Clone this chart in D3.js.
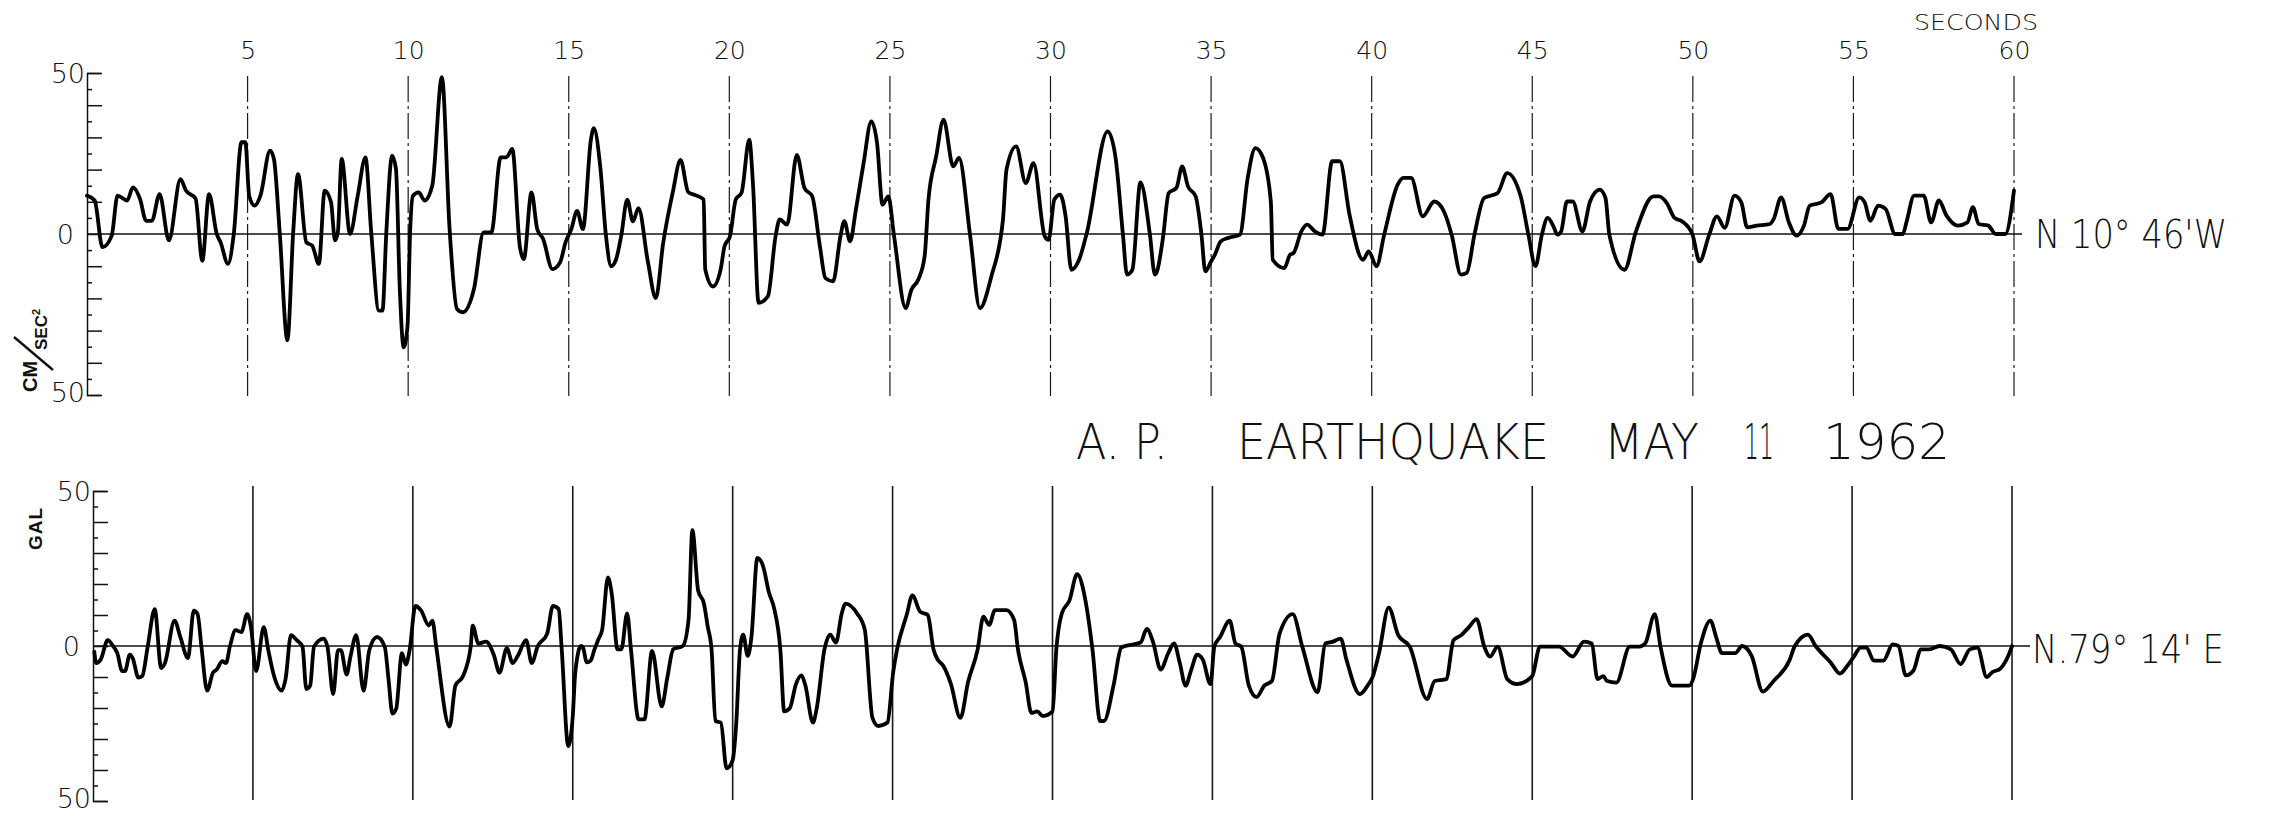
<!DOCTYPE html>
<html>
<head>
<meta charset="utf-8">
<script src="https://cdn.jsdelivr.net/npm/d3@7"></script>
<style>
  html, body { margin: 0; padding: 0; background: #fff; }
  svg { display: block; }
  text { fill: #111; }
</style>
</head>
<body>
<svg id="chart" width="2287" height="816"></svg>
<script>
// Time marks along the record (seconds) and amplitude ticks (gal)
const secondTicks = [5, 10, 15, 20, 25, 30, 35, 40, 45, 50, 55, 60];
const ampTicks = d3.range(-50, 51, 5);
const ampLabels = [50, 0, -50];

// Component N 10°46'W : [time (s), acceleration (gal)]
const nsTrace = [
  [0,11.9],[0.24,10.4],[0.48,-4.1],[0.77,-0.5],[0.95,11.9],[1.25,10.4],[1.43,14.5],[1.65,10.9],[1.84,4.1],[2.02,4.1],
  [2.26,12.4],[2.55,-2.0],[2.91,17.0],[3.08,13.5],[3.38,11.0],[3.59,-8.3],[3.8,12.4],[4.04,0],[4.16,-2.6],[4.39,-9.3],
  [4.57,0],[4.81,28.5],[4.93,28.5],[5.05,11.9],[5.22,8.8],[5.4,11.9],[5.7,25.9],[5.82,23.3],[6.0,0.5],[6.24,-33.0],
  [6.42,0.5],[6.57,18.6],[6.83,-2.6],[7.01,-3.6],[7.22,-9.3],[7.4,13.5],[7.6,9.8],[7.72,-2.0],[7.81,0.5],[7.93,23.3],
  [8.19,0],[8.43,11.9],[8.67,23.8],[8.85,0.5],[9.09,-23.8],[9.2,-23.8],[9.32,0.5],[9.5,24.3],[9.62,20.2],[9.74,-17.2],
  [9.86,-35.2],[9.98,-28.5],[10.06,0.5],[10.15,11.9],[10.33,12.9],[10.51,10.4],[10.75,15.0],[11.05,48.7],[11.29,1.5],[11.52,-23.3],
  [11.7,-24.3],[12.05,-17.0],[12.35,0.5],[12.59,0.5],[12.88,23.8],[13.06,23.8],[13.24,26.4],[13.48,-4.1],[13.6,-7.8],[13.84,12.9],
  [14.02,1.5],[14.2,-1.5],[14.49,-10.9],[14.73,-8.8],[14.9,-2.6],[15.08,1.5],[15.26,7.2],[15.44,1.5],[15.69,29.3],[15.78,32.9],
  [15.98,21.0],[16.16,-0.7],[16.32,-10.0],[16.47,-8.0],[16.64,-0.2],[16.82,10.7],[17.0,3.9],[17.17,8.0],[17.47,-9.0],[17.71,-19.9],
  [17.94,-2.8],[18.24,13.0],[18.48,23.0],[18.72,13.0],[18.96,12.0],[19.2,10.7],[19.25,-11.0],[19.49,-16.3],[19.73,-11.0],[19.85,-3.8],
  [20.02,-0.7],[20.2,10.7],[20.38,12.8],[20.62,29.3],[20.74,14.8],[20.91,-21.4],[21.2,-19.4],[21.44,-0.7],[21.57,4.5],[21.8,2.9],
  [22.1,24.6],[22.34,14.3],[22.58,11.7],[22.82,-3.8],[22.99,-13.7],[23.23,-14.7],[23.46,-0.7],[23.58,4.0],[23.76,-2.3],[23.94,7.5],
  [24.18,22.0],[24.42,35.0],[24.6,28.2],[24.77,9.1],[24.95,11.7],[25.13,-0.7],[25.49,-23.0],[25.67,-17.3],[25.88,-14.2],[26.08,-7.0],
  [26.2,10.7],[26.44,24.1],[26.67,35.5],[26.97,21.0],[27.15,23.6],[27.5,-0.7],[27.8,-23.0],[28.16,-13.1],[28.52,4.5],[28.63,20.0],
  [28.93,27.2],[29.23,15.8],[29.47,22.0],[29.82,-0.7],[29.94,-1.8],[30.12,10.7],[30.3,12.2],[30.47,5.5],[30.65,-11.1],[30.89,-8.0],
  [31.13,0.3],[31.78,31.9],[32.02,24.1],[32.26,-0.7],[32.38,-12.6],[32.55,-11.1],[32.8,16.0],[33.09,0.3],[33.25,-12.6],[33.32,-11.5],
  [33.5,-1.3],[33.68,12.7],[33.92,14.3],[34.1,21.0],[34.28,14.8],[34.52,11.7],[34.7,-0.2],[34.82,-11.6],[35.0,-8.5],[35.12,-6.4],
  [35.3,-2.3],[35.54,-1.2],[35.9,-0.2],[36.14,17.4],[36.38,26.7],[36.62,23.6],[36.86,10.1],[36.92,-8.0],[37.28,-10.6],[37.46,-6.4],
  [37.57,-5.9],[37.81,0.8],[37.99,2.9],[38.23,0.8],[38.47,-0.2],[38.77,22.6],[39.01,22.6],[39.31,6.0],[39.73,-8.0],[39.91,-5.4],
  [40.15,-10.0],[40.39,-0.2],[40.81,15.3],[40.99,17.4],[41.23,17.4],[41.59,5.5],[41.95,10.1],[42.25,7.0],[42.49,-0.2],[42.78,-12.6],
  [42.96,-12.1],[43.2,-0.2],[43.5,11.2],[43.92,12.7],[44.22,18.9],[44.64,11.7],[44.88,-0.2],[45.1,-10.0],[45.3,-0.2],[45.48,5.0],
  [45.66,2.4],[45.78,-0.2],[45.9,0.8],[46.08,10.1],[46.26,10.1],[46.56,0.8],[46.8,10.1],[47.1,13.8],[47.28,11.2],[47.4,-0.2],
  [47.87,-11.1],[48.23,0.8],[48.77,11.7],[48.95,11.7],[49.19,9.6],[49.43,5.0],[49.67,3.9],[49.99,-0.2],[50.21,-8.5],[50.51,-0.2],
  [50.75,5.5],[50.99,1.9],[51.3,11.9],[51.51,9.8],[51.69,2.1],[51.99,2.6],[52.4,3.1],[52.52,4.7],[52.75,11.4],[52.99,3.6],
  [53.23,-0.5],[53.46,2.6],[53.64,8.8],[54.0,9.8],[54.29,12.4],[54.53,1.6],[54.82,1.6],[55.18,11.4],[55.35,9.8],[55.53,4.1],
  [55.77,8.8],[56.0,7.8],[56.3,0],[56.54,0],[56.65,3.6],[56.89,11.9],[57.19,11.9],[57.42,3.6],[57.66,10.4],[57.9,5.7],
  [58.25,2.6],[58.55,3.6],[58.72,8.3],[58.9,3.1],[59.2,2.6],[59.43,0],[59.73,0],[60,13.5]
];

// Component N 79°14'E : [time (s), acceleration (gal)]
const ewTrace = [
  [0.04,-1.8],[0.1,-5.5],[0.24,-4.4],[0.46,1.9],[0.64,-0.2],[0.76,-2.3],[0.91,-8.1],[1.0,-8.1],[1.15,-2.8],[1.24,-3.9],
  [1.42,-10.2],[1.54,-9.7],[1.71,-0.2],[1.93,11.9],[2.13,-7.1],[2.25,-5.5],[2.55,8.2],[2.73,2.9],[2.97,-3.9],[3.15,11.4],
  [3.27,10.3],[3.39,-0.2],[3.57,-14.4],[3.75,-8.6],[3.87,-7.6],[4.04,-4.9],[4.16,-5.5],[4.28,-0.2],[4.46,5.1],[4.64,4.5],
  [4.82,10.3],[4.94,6.1],[5.1,-8.1],[5.34,6.1],[5.48,-1.3],[5.66,-9.7],[5.9,-14.4],[6.02,-10.7],[6.19,3.5],[6.37,1.9],
  [6.55,-0.2],[6.67,-13.9],[6.79,-12.8],[6.91,-0.2],[7.21,2.4],[7.33,-0.2],[7.51,-15.5],[7.66,-1.3],[7.75,-1.3],[7.93,-9.2],
  [8.05,-3.4],[8.23,3.5],[8.46,-14.4],[8.64,-1.3],[8.88,2.9],[9.12,-0.2],[9.24,-10.7],[9.36,-21.8],[9.48,-20.2],[9.66,-2.3],
  [9.78,-6.0],[9.9,-1.3],[10.08,12.9],[10.26,11.4],[10.5,6.6],[10.61,8.2],[10.73,-0.2],[11.15,-26.0],[11.33,-12.8],[11.57,-9.7],
  [11.81,-0.2],[11.87,6.6],[12.05,0.8],[12.29,1.4],[12.53,-2.8],[12.71,-8.6],[12.94,-0.7],[13.12,-5.5],[13.3,-2.8],[13.54,1.9],
  [13.72,-5.5],[13.9,-0.2],[14.2,4.0],[14.38,12.9],[14.56,11.9],[14.65,-0.2],[14.86,-32.3],[15.0,-22.8],[15.08,-8.4],[15.26,0],
  [15.32,-0.5],[15.44,-5.3],[15.56,-4.7],[15.68,-1.1],[15.8,2.1],[15.92,5.3],[16.1,22.1],[16.22,16.8],[16.4,-1.1],[16.52,-1.1],
  [16.7,10.5],[16.82,-1.1],[17.06,-23.7],[17.24,-23.7],[17.48,-1.6],[17.78,-19.5],[17.96,-10.0],[18.14,-1.1],[18.44,0],[18.62,8.4],
  [18.74,37.4],[18.92,17.9],[19.1,13.7],[19.22,6.3],[19.34,-1.1],[19.46,-24.2],[19.63,-24.7],[19.81,-39.5],[20.0,-36.8],[20.11,-25.3],
  [20.23,-1.1],[20.33,3.7],[20.47,-3.2],[20.59,3.2],[20.77,28.4],[20.95,25.8],[21.13,17.4],[21.31,11.6],[21.49,-1.1],[21.61,-21.1],
  [21.79,-20.0],[21.97,-12.6],[22.15,-9.5],[22.27,-12.6],[22.51,-24.7],[22.63,-20.0],[22.87,-1.1],[23.05,3.7],[23.23,1.1],[23.41,10.5],
  [23.53,13.7],[23.89,10.5],[24.13,5.3],[24.37,-23.2],[24.55,-25.8],[24.84,-24.7],[25.02,-8.4],[25.14,-1.1],[25.44,10.0],[25.62,16.3],
  [25.86,11.1],[26.1,10.0],[26.28,-1.1],[26.4,-4.2],[26.58,-6.3],[26.82,-12.1],[27.12,-23.2],[27.36,-11.6],[27.66,-1.1],[27.84,9.5],
  [28.02,6.8],[28.2,11.6],[28.56,11.6],[28.8,8.4],[28.92,-1.1],[29.16,-11.6],[29.34,-21.6],[29.52,-21.1],[29.7,-22.6],[30.0,-21.1],
  [30.12,-1.1],[30.29,10.5],[30.53,14.7],[30.77,23.2],[31.01,15.8],[31.25,-1.1],[31.49,-24.2],[31.61,-24.2],[31.91,-12.6],[32.15,-0.5],
  [32.27,0],[32.75,1.1],[32.95,5.5],[33.14,1.4],[33.38,-7.6],[33.62,-2.3],[33.8,0.8],[33.98,-5.5],[34.16,-12.8],[34.34,-7.6],
  [34.52,-2.8],[34.7,-4.4],[34.94,-12.3],[35.06,-0.2],[35.24,2.9],[35.54,8.2],[35.72,0.8],[35.9,-0.2],[36.14,-12.8],[36.38,-16.5],
  [36.62,-12.8],[36.86,-11.3],[37.1,4.0],[37.51,10.3],[37.81,-0.2],[38.29,-14.9],[38.53,0.8],[38.77,1.4],[39.01,2.4],[39.19,-4.4],
  [39.61,-15.5],[39.85,-12.8],[40.02,-9.7],[40.21,-2.3],[40.51,12.4],[40.81,3.5],[41.17,-0.2],[41.71,-17.1],[41.95,-11.3],[42.31,-10.7],
  [42.54,1.9],[42.78,3.5],[43.02,6.1],[43.26,8.7],[43.5,-0.2],[43.68,-3.4],[43.92,-0.2],[44.22,-10.7],[44.52,-12.3],[45.0,-9.7],
  [45.24,-0.2],[45.84,-0.2],[46.26,-3.4],[46.62,1.4],[46.86,0.8],[47.04,-10.7],[47.22,-9.7],[47.34,-11.3],[47.63,-11.8],[48.05,-0.2],
  [48.35,-0.2],[48.53,0.8],[48.83,10.3],[49.01,-0.2],[49.37,-12.8],[49.91,-12.8],[50.03,-10.7],[50.27,0.8],[50.57,8.2],[50.75,2.9],
  [50.93,-2.3],[51.35,-2.3],[51.56,0],[51.86,-3.2],[52.21,-14.7],[52.56,-11.1],[53.04,-4.7],[53.21,0],[53.62,3.7],[53.86,0],
  [54.33,-5.3],[54.62,-8.9],[54.86,-6.3],[55.04,-3.7],[55.27,-0.5],[55.45,-0.5],[55.68,-4.7],[55.98,-4.7],[56.27,0.5],[56.45,0],
  [56.68,-9.5],[56.92,-7.9],[57.15,-1.1],[57.39,-1.1],[57.74,0],[58.09,-1.1],[58.39,-5.8],[58.68,-1.1],[58.92,-0.5],[59.21,-10.0],
  [59.39,-8.4],[59.62,-7.4],[59.86,-3.7],[60,0]
];

const LETTER = "'DejaVu Sans', 'Liberation Sans', sans-serif";
const BOLD = "'Liberation Sans', 'DejaVu Sans', sans-serif";
const svg = d3.select("#chart");

svg.append("rect").attr("width", 2287).attr("height", 816).attr("fill", "#fff");

// Layout of the two stacked records
const panels = [
  { name: "ns", trace: nsTrace, x0: 87, x1: 2014, yTop: 73, yBot: 395,
    gridTop: 76, gridBot: 396, zeroEnd: 2022, gridDash: "26,4,3,4", gridWidth: 1.2,
    label: "N 10° 46'W", labelX: 2035, labelY: 248 },
  { name: "ew", trace: ewTrace, x0: 93, x1: 2012, yTop: 491, yBot: 801,
    gridTop: 486, gridBot: 800, zeroEnd: 2030, gridDash: null, gridWidth: 1.6,
    label: "N.79° 14' E", labelX: 2032, labelY: 663 }
];

panels.forEach(p => {
  const x = d3.scaleLinear().domain([0, 60]).range([p.x0, p.x1]);
  const y = d3.scaleLinear().domain([-50, 50]).range([p.yBot, p.yTop]);
  const g = svg.append("g").attr("class", "panel-" + p.name);

  // vertical second marks
  g.append("g").selectAll("line")
    .data(secondTicks)
    .join("line")
    .attr("x1", d => x(d)).attr("x2", d => x(d))
    .attr("y1", p.gridTop).attr("y2", p.gridBot)
    .attr("stroke", "#1a1a1a")
    .attr("stroke-width", p.gridWidth)
    .attr("stroke-dasharray", p.gridDash);

  // zero line
  g.append("line")
    .attr("x1", x(0)).attr("x2", p.zeroEnd)
    .attr("y1", y(0)).attr("y2", y(0))
    .attr("stroke", "#111").attr("stroke-width", 1.5);

  // amplitude scale with long ticks every 10 gal, short ticks between
  const axis = d3.axisRight(y).tickValues(ampTicks).tickFormat("").tickSizeOuter(0).tickSize(14);
  const ag = g.append("g").attr("transform", `translate(${x(0)},0)`).call(axis);
  ag.select(".domain").attr("stroke", "#111").attr("stroke-width", 1.5);
  ag.selectAll(".tick line")
    .attr("stroke", "#111").attr("stroke-width", 1.5)
    .attr("x2", d => (d % 10 === 0 ? 15 : 5));

  // amplitude labels
  g.append("g").selectAll("text")
    .data(ampLabels)
    .join("text")
    .attr("x", d => (d === 0 ? x(0) - 13 : x(0) - 2))
    .attr("y", d => y(d) + (d < 0 ? -3 : 0))
    .attr("dy", "0.36em")
    .attr("text-anchor", "end")
    .attr("font-family", LETTER)
    .attr("font-weight", 200)
    .attr("font-size", 27)
    .text(d => Math.abs(d));

  // record trace
  const line = d3.line().x(d => x(d[0])).y(d => y(d[1])).curve(d3.curveMonotoneX);
  g.append("path")
    .datum(p.trace)
    .attr("d", line)
    .attr("fill", "none")
    .attr("stroke", "#000")
    .attr("stroke-width", 3.8)
    .attr("stroke-linejoin", "round")
    .attr("stroke-linecap", "round");

  // component label
  g.append("text")
    .attr("x", p.labelX).attr("y", p.labelY)
    .attr("font-family", LETTER)
    .attr("font-weight", 200)
    .attr("font-size", 39)
    .attr("textLength", 192)
    .attr("lengthAdjust", "spacingAndGlyphs")
    .text(p.label);

  // time labels above the upper record
  if (p.name === "ns") {
    const tAxis = d3.axisTop(x).tickValues(secondTicks).tickSize(0).tickPadding(0);
    const tg = g.append("g").attr("transform", "translate(0,59)").call(tAxis);
    tg.select(".domain").remove();
    tg.selectAll("text")
      .attr("font-family", LETTER)
      .attr("font-weight", 200)
      .attr("font-size", 25)
      .attr("fill", "#111");
    g.append("text")
      .attr("x", 2038).attr("y", 30)
      .attr("text-anchor", "end")
      .attr("font-family", LETTER)
      .attr("font-weight", 200)
      .attr("font-size", 22)
      .attr("textLength", 124)
      .attr("lengthAdjust", "spacingAndGlyphs")
      .text("SECONDS");
  }
});

// unit labels on the left
const cm = svg.append("g").attr("font-family", BOLD).attr("font-weight", 700);
cm.append("text")
  .attr("transform", "translate(37,392) rotate(-90)")
  .attr("font-size", 20)
  .text("CM");
cm.append("line")
  .attr("x1", 14).attr("y1", 337).attr("x2", 53).attr("y2", 370)
  .attr("stroke", "#111").attr("stroke-width", 2.4);
cm.append("text")
  .attr("transform", "translate(47,350) rotate(-90)")
  .attr("font-size", 17)
  .text("SEC")
  .append("tspan").attr("dy", -7).attr("font-size", 11).text("2");

svg.append("text")
  .attr("transform", "translate(42,550) rotate(-90)")
  .attr("font-family", BOLD)
  .attr("font-weight", 700)
  .attr("font-size", 19)
  .attr("letter-spacing", 1)
  .text("GAL");

// title, word by word
const titleWords = [
  { t: "A. P.", x: 1076, w: 92 },
  { t: "EARTHQUAKE", x: 1237, w: 312 },
  { t: "MAY", x: 1604, w: 95 },
  { t: "11", x: 1744, w: 30 },
  { t: "1962", x: 1823, w: 127 }
];
svg.append("g").selectAll("text")
  .data(titleWords)
  .join("text")
  .attr("x", d => d.x).attr("y", 459)
  .attr("font-family", LETTER)
  .attr("font-weight", 200)
  .attr("font-size", 50)
  .attr("textLength", d => d.w)
  .attr("lengthAdjust", "spacingAndGlyphs")
  .text(d => d.t);
</script>
</body>
</html>
